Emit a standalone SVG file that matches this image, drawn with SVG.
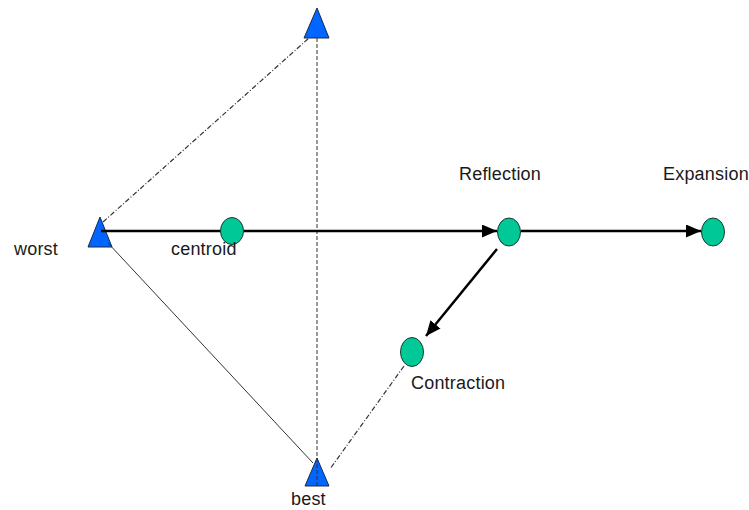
<svg xmlns="http://www.w3.org/2000/svg" width="749" height="510" viewBox="0 0 749 510">
<style>
.tri{fill:#0066ff;stroke:#1a2a4a;stroke-width:1}
.pt{fill:#00c896;stroke:#1a3a30;stroke-width:1}
.lbl{font-family:"Liberation Sans",Arial,sans-serif;font-size:18px;fill:#1a1a1a;letter-spacing:0.2px}
.thin{stroke:#333;stroke-width:1;fill:none}
.dash{stroke:#333;stroke-width:1;fill:none;stroke-dasharray:4 2}
.dashdot{stroke:#333;stroke-width:1.2;fill:none;stroke-dasharray:5 2 1 2}
.arr{stroke:#000;stroke-width:2.5;fill:none;marker-end:url(#ah)}
</style>
<defs>
<marker id="ah" markerUnits="userSpaceOnUse" markerWidth="16" markerHeight="14" refX="15" refY="6.5" orient="auto">
<path d="M0,0 L15,6.5 L0,13 Z" fill="#000"/>
</marker>
</defs>
<g id="node-top"><polygon class="tri" points="317,8 304,38 329,38"/></g>
<g id="node-worst"><polygon class="tri" points="100,217 88,247 112,247"/><text class="lbl" x="14" y="255">worst</text></g>
<g id="node-best"><polygon class="tri" points="317,458 305,486 329,486"/><text class="lbl" x="291" y="505">best</text></g>
<g id="connectors">
<line class="dashdot" x1="103" y1="222" x2="309" y2="38"/>
<line class="thin" x1="108" y1="243" x2="313" y2="463"/>
<line class="dash" x1="317" y1="38" x2="317" y2="486"/>
<line class="dashdot" x1="404" y1="366" x2="330" y2="469"/>
<line class="arr" x1="101" y1="231" x2="497" y2="231"/>
<line class="arr" x1="521" y1="231" x2="701" y2="231"/>
<line class="arr" x1="497" y1="249" x2="426" y2="336"/>
</g>
<g id="node-centroid"><ellipse class="pt" cx="232" cy="231" rx="11.5" ry="13.5"/><text class="lbl" x="171" y="255">centroid</text></g>
<g id="node-reflection"><ellipse class="pt" cx="509" cy="232" rx="11.5" ry="14"/><text class="lbl" x="459" y="180">Reflection</text></g>
<g id="node-expansion"><ellipse class="pt" cx="713" cy="232" rx="11.5" ry="14"/><text class="lbl" x="663" y="180">Expansion</text></g>
<g id="node-contraction"><ellipse class="pt" cx="412" cy="352" rx="11.5" ry="14.5"/><text class="lbl" x="411" y="389">Contraction</text></g>
</svg>
